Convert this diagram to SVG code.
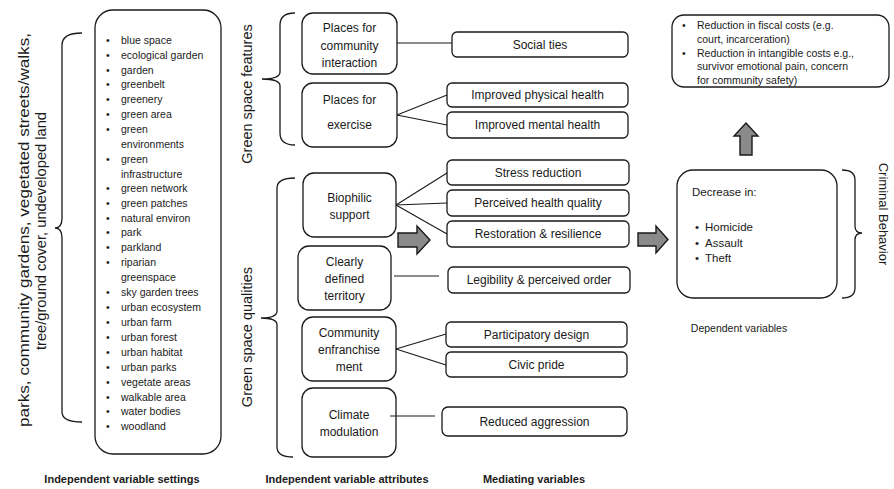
<svg xmlns="http://www.w3.org/2000/svg" width="894" height="489" viewBox="0 0 894 489">
<style>
  .box { fill: #fff; stroke: #1a1a1a; stroke-width: 1.3; }
  .ln { fill: none; stroke: #1a1a1a; stroke-width: 1.1; }
  .br { fill: none; stroke: #1a1a1a; stroke-width: 1.3; }
  .arr { fill: #8a8a8a; stroke: #1a1a1a; stroke-width: 1.4; }
  text { font-family: "Liberation Sans", Arial, sans-serif; fill: #1a1a1a; }
  .li { font-size: 10.5px; }
  .nd { font-size: 12px; text-anchor: middle; }
  .big { font-size: 15.5px; text-anchor: middle; }
  .rot { font-size: 14.5px; text-anchor: middle; }
  .lab { font-size: 11px; font-weight: bold; text-anchor: middle; }
  .rt { font-size: 10.5px; }
</style>

<!-- Left rotated label and brace -->
<g id="settings-label">
  <text class="big" transform="translate(29,230) rotate(-90)" textLength="394" lengthAdjust="spacingAndGlyphs">parks, community gardens, vegetated streets/walks,</text>
  <text class="big" transform="translate(46,231) rotate(-90)" textLength="238" lengthAdjust="spacingAndGlyphs">tree/ground cover, undeveloped land</text>
  <path class="br" d="M82,33 Q62,33 62,45 L62,218 Q62,228 55,228 Q62,228 62,238 L62,412 Q62,422 82,422"/>
</g>

<!-- List box -->
<g id="settings-list">
  <rect class="box" x="95" y="10" width="126" height="444" rx="18"/>
  <g class="li">
    <text x="106" y="43.5">•</text><text x="121" y="43.5">blue space</text>
    <text x="106" y="58.5">•</text><text x="121" y="58.5">ecological garden</text>
    <text x="106" y="73.5">•</text><text x="121" y="73.5">garden</text>
    <text x="106" y="88">•</text><text x="121" y="88">greenbelt</text>
    <text x="106" y="103">•</text><text x="121" y="103">greenery</text>
    <text x="106" y="117.5">•</text><text x="121" y="117.5">green area</text>
    <text x="106" y="132.5">•</text><text x="121" y="132.5">green</text>
    <text x="121" y="147.5">environments</text>
    <text x="106" y="162.5">•</text><text x="121" y="162.5">green</text>
    <text x="121" y="177.5">infrastructure</text>
    <text x="106" y="192">•</text><text x="121" y="192">green network</text>
    <text x="106" y="206.5">•</text><text x="121" y="206.5">green patches</text>
    <text x="106" y="221.5">•</text><text x="121" y="221.5">natural environ</text>
    <text x="106" y="236">•</text><text x="121" y="236">park</text>
    <text x="106" y="251">•</text><text x="121" y="251">parkland</text>
    <text x="106" y="266">•</text><text x="121" y="266">riparian</text>
    <text x="121" y="281">greenspace</text>
    <text x="106" y="295.5">•</text><text x="121" y="295.5">sky garden trees</text>
    <text x="106" y="310.5">•</text><text x="121" y="310.5">urban ecosystem</text>
    <text x="106" y="325.5">•</text><text x="121" y="325.5">urban farm</text>
    <text x="106" y="340.5">•</text><text x="121" y="340.5">urban forest</text>
    <text x="106" y="355.5">•</text><text x="121" y="355.5">urban habitat</text>
    <text x="106" y="370.5">•</text><text x="121" y="370.5">urban parks</text>
    <text x="106" y="385.5">•</text><text x="121" y="385.5">vegetate areas</text>
    <text x="106" y="400.5">•</text><text x="121" y="400.5">walkable area</text>
    <text x="106" y="415">•</text><text x="121" y="415">water bodies</text>
    <text x="106" y="429.5">•</text><text x="121" y="429.5">woodland</text>
  </g>
</g>

<!-- Group labels and braces -->
<g id="features-label">
  <text class="rot" transform="translate(252,94) rotate(-90)">Green space features</text>
  <path class="br" d="M295,13 Q280,13 280,25 L280,72 Q280,79 262,79 Q280,79 280,86 L280,133 Q280,145 295,145"/>
</g>
<g id="qualities-label">
  <text class="rot" transform="translate(252,337) rotate(-90)">Green space qualities</text>
  <path class="br" d="M295,178 Q277,178 277,188 L277,311 Q277,318 261,318 Q277,318 277,325 L277,447 Q277,457 293,457"/>
</g>

<!-- Attribute nodes -->
<g id="n-community">
  <rect class="box" x="302" y="13" width="95" height="61" rx="11"/>
  <text class="nd" x="349.5" y="32">Places for</text>
  <text class="nd" x="349.5" y="50">community</text>
  <text class="nd" x="349.5" y="67">interaction</text>
</g>
<g id="n-exercise">
  <rect class="box" x="302" y="83" width="95" height="64" rx="11"/>
  <text class="nd" x="349.5" y="104">Places for</text>
  <text class="nd" x="349.5" y="129">exercise</text>
</g>
<g id="n-biophilic">
  <rect class="box" x="303" y="173" width="93" height="64" rx="11"/>
  <text class="nd" x="349.5" y="202">Biophilic</text>
  <text class="nd" x="349.5" y="219">support</text>
</g>
<g id="n-territory">
  <rect class="box" x="298" y="246" width="93" height="64" rx="11"/>
  <text class="nd" x="344.5" y="266">Clearly</text>
  <text class="nd" x="344.5" y="283">defined</text>
  <text class="nd" x="344.5" y="300">territory</text>
</g>
<g id="n-enfranchise">
  <rect class="box" x="302" y="317" width="94" height="64" rx="11"/>
  <text class="nd" x="349" y="337">Community</text>
  <text class="nd" x="349" y="354">enfranchise</text>
  <text class="nd" x="349" y="371">ment</text>
</g>
<g id="n-climate">
  <rect class="box" x="302" y="388" width="94" height="69" rx="11"/>
  <text class="nd" x="349" y="419">Climate</text>
  <text class="nd" x="349" y="436">modulation</text>
</g>

<!-- Mediating nodes -->
<g id="m-social"><rect class="box" x="452" y="32" width="176" height="25" rx="5"/><text class="nd" x="540" y="49">Social ties</text></g>
<g id="m-physical"><rect class="box" x="447" y="83" width="181" height="24" rx="5"/><text class="nd" x="537.5" y="99">Improved physical health</text></g>
<g id="m-mental"><rect class="box" x="447" y="112" width="181" height="26" rx="5"/><text class="nd" x="537.5" y="129">Improved mental health</text></g>
<g id="m-stress"><rect class="box" x="447" y="160" width="182" height="25" rx="5"/><text class="nd" x="538" y="177">Stress reduction</text></g>
<g id="m-perceived"><rect class="box" x="447" y="190" width="182" height="26" rx="5"/><text class="nd" x="538" y="207">Perceived health quality</text></g>
<g id="m-restoration"><rect class="box" x="447" y="221" width="182" height="26" rx="5"/><text class="nd" x="538" y="238">Restoration &amp; resilience</text></g>
<g id="m-legibility"><rect class="box" x="448" y="267" width="182" height="26" rx="5"/><text class="nd" x="539" y="284">Legibility &amp; perceived order</text></g>
<g id="m-participatory"><rect class="box" x="446" y="322" width="181" height="25" rx="5"/><text class="nd" x="536.5" y="339">Participatory design</text></g>
<g id="m-civic"><rect class="box" x="446" y="352" width="181" height="25" rx="5"/><text class="nd" x="536.5" y="369">Civic pride</text></g>
<g id="m-aggression"><rect class="box" x="442" y="407" width="185" height="29" rx="6"/><text class="nd" x="534.5" y="426">Reduced aggression</text></g>

<!-- Connectors -->
<g id="connectors">
  <line class="ln" x1="397" y1="43" x2="452" y2="43"/>
  <line class="ln" x1="397" y1="115" x2="447" y2="95"/>
  <line class="ln" x1="397" y1="115" x2="447" y2="125"/>
  <line class="ln" x1="396" y1="205" x2="447" y2="173"/>
  <line class="ln" x1="396" y1="205" x2="447" y2="203"/>
  <line class="ln" x1="396" y1="205" x2="447" y2="234"/>
  <line class="ln" x1="394" y1="276" x2="439" y2="276"/>
  <line class="ln" x1="396" y1="349" x2="446" y2="334"/>
  <line class="ln" x1="396" y1="349" x2="446" y2="365"/>
  <line class="ln" x1="390" y1="416" x2="435" y2="416"/>
  <path class="arr" d="M398,233 L417,233 L417,226 L430,240 L417,254 L417,247 L398,247 Z"/>
  <path class="arr" d="M638,233 L656,233 L656,226 L668,239.5 L656,253 L656,246 L638,246 Z"/>
  <path class="arr" d="M740,155 L740,136 L734,136 L746,123 L758,136 L752,136 L752,155 Z"/>
</g>

<!-- Outcome box -->
<g id="costs">
  <rect class="box" x="672" y="15" width="217" height="72" rx="12"/>
  <g class="rt">
    <text x="682" y="28.5">•</text><text x="697" y="28.5">Reduction in fiscal costs (e.g.</text>
    <text x="697" y="43">court, incarceration)</text>
    <text x="682" y="56.5">•</text><text x="697" y="56.5">Reduction in intangible costs e.g.,</text>
    <text x="697" y="70">survivor emotional pain, concern</text>
    <text x="697" y="83.5">for community safety)</text>
  </g>
</g>

<!-- Dependent box -->
<g id="decrease">
  <rect class="box" x="677" y="170" width="160" height="128" rx="16"/>
  <text x="692" y="196" font-size="11.5">Decrease in:</text>
  <text x="695" y="231" font-size="11.5">•</text><text x="705" y="231" font-size="11.5">Homicide</text>
  <text x="695" y="247" font-size="11.5">•</text><text x="705" y="247" font-size="11.5">Assault</text>
  <text x="695" y="262" font-size="11.5">•</text><text x="705" y="262" font-size="11.5">Theft</text>
</g>
<g id="criminal-label">
  <path class="br" d="M842,170 Q855,170 855,180 L855,226 Q855,233 862,233 Q855,233 855,240 L855,288 Q855,298 842,298"/>
  <text class="rot" transform="translate(879,214) rotate(90)" style="font-size:13px">Criminal Behavior</text>
</g>

<!-- Column labels -->
<g id="column-labels">
  <text class="lab" x="122" y="483">Independent variable settings</text>
  <text class="lab" x="347" y="483">Independent variable attributes</text>
  <text class="lab" x="534" y="483">Mediating variables</text>
  <text x="739" y="332" font-size="10.5" text-anchor="middle">Dependent variables</text>
</g>
</svg>
